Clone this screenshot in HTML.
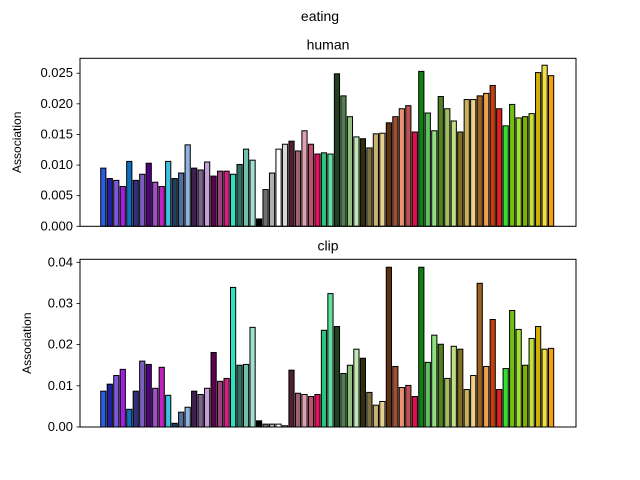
<!DOCTYPE html>
<html><head><meta charset="utf-8"><style>
body{margin:0;background:#fff}
svg{display:block;font-family:"Liberation Sans","DejaVu Sans",sans-serif}
</style></head><body>
<svg id="chart" width="640" height="480" viewBox="0 0 640 480" xmlns="http://www.w3.org/2000/svg">
<text x="320" y="21" font-size="14" text-anchor="middle">eating</text>
</svg>
<script>
const colors=["#2a5ce6","#2020a0","#7a5ad8","#a020e0","#1070c0","#303080","#7a60c0","#500080","#a050c8","#c020c0","#40c0e0","#204060","#5070a0","#90b0e0","#402050","#806090","#c8a0d8","#600050","#a04080","#d02080","#30e0c0","#307060","#70c0b0","#a0e0d0","#000000","#707070","#b0b0b0","#ffffff","#d8d8d8","#502030","#a06070","#e0a0b0","#c05070","#e01060","#30c080","#60e0a0","#204020","#508050","#90c080","#c0e8b0","#303010","#807040","#c8b070","#e8d090","#603010","#a05030","#e89070","#c05050","#e01050","#108010","#60c060","#90e080","#508020","#a0c060","#c0e080","#807020","#c8b060","#f0d080","#a06020","#f0a050","#c04010","#e02020","#30e030","#70c010","#a0e030","#80b000","#c0e040","#d0b000","#f0e040","#f0a010"];
const humanValues=[0.0095,0.0078,0.0075,0.0065,0.0106,0.0075,0.0085,0.0103,0.0072,0.0065,0.0106,0.0078,0.0087,0.0133,0.0095,0.0092,0.0105,0.0082,0.009,0.009,0.0085,0.0101,0.0126,0.0108,0.0012,0.006,0.0087,0.0126,0.0134,0.0139,0.0123,0.0156,0.0134,0.0118,0.012,0.0118,0.0249,0.0213,0.0179,0.0146,0.0143,0.0128,0.0151,0.0152,0.0169,0.0179,0.0192,0.0197,0.0154,0.0253,0.0185,0.0156,0.0212,0.0192,0.0172,0.0154,0.0207,0.0207,0.0213,0.0217,0.023,0.0192,0.0164,0.0199,0.0177,0.0179,0.0184,0.0251,0.0263,0.0246];
const clipValues=[0.0087,0.0104,0.0125,0.014,0.0043,0.0087,0.016,0.0152,0.0094,0.0145,0.0077,0.0009,0.0036,0.0048,0.0087,0.0079,0.0094,0.0181,0.0111,0.0118,0.0339,0.015,0.0152,0.0242,0.0015,0.0007,0.0007,0.0007,0.0003,0.0138,0.0082,0.0079,0.0074,0.0079,0.0235,0.0324,0.0244,0.013,0.015,0.0189,0.0167,0.0084,0.0053,0.0062,0.0388,0.0147,0.0096,0.0101,0.0074,0.0388,0.0157,0.0223,0.0201,0.0118,0.0196,0.0189,0.0091,0.0125,0.0349,0.0147,0.0261,0.0091,0.0142,0.0283,0.0237,0.015,0.0215,0.0244,0.0189,0.0191];
const humanTicks=[0,0.005,0.01,0.015,0.02,0.025];
const humanTickLabels=["0.000","0.005","0.010","0.015","0.020","0.025"];
const clipTicks=[0,0.01,0.02,0.03,0.04];
const clipTickLabels=["0.00","0.01","0.02","0.03","0.04"];
const NS="http://www.w3.org/2000/svg";
const svg=document.getElementById('chart');
function mk(tag,attrs){const e=document.createElementNS(NS,tag);for(const k in attrs)e.setAttribute(k,attrs[k]);return e;}
function panel(name,title,values,ticks,labels,top,bottom,vmax,ylabX){
  const L=80,R=576;
  const g=mk('g',{});
  
  
  svg.appendChild(g);
  const y=v=>bottom-v/vmax*(bottom-top-0);
  const pitch=6.49,x0=103.3;
  const xc=i=>x0+i*pitch;
  values.forEach((v,i)=>{
    const r=mk('rect',{x:xc(i)-2.6,y:y(v),width:5.2,height:bottom-y(v),fill:colors[i],stroke:'#000','stroke-width':1});
    
    
    g.appendChild(r);
  });
  const f=mk('rect',{x:L,y:top,width:R-L,height:bottom-top,fill:'none',stroke:'#000','stroke-width':1});
  
  
  g.appendChild(f);
  ticks.forEach((t,i)=>{
    const ty=y(t);
    const tl=mk('line',{x1:L-3.5,x2:L,y1:ty,y2:ty,stroke:'#000','stroke-width':0.8});
    
    
    g.appendChild(tl);
    const tx=mk('text',{x:L-7,y:ty+4,'font-size':13,'text-anchor':'end'});
    
    
    tx.textContent=labels[i];
    g.appendChild(tx);
  });
  const tt=mk('text',{x:328,y:top-9,'font-size':14,'text-anchor':'middle'});
  
  
  tt.textContent=title;g.appendChild(tt);
  const cy=(top+bottom)/2;
  const yl=mk('text',{x:ylabX,y:cy,'font-size':12,'text-anchor':'middle',transform:'rotate(-90 '+ylabX+' '+cy+')'});
  
  
  yl.textContent='Association';g.appendChild(yl);
}
// human: bottom 226.3, 0.025 at 73.2 -> vmax so that top=58.3
panel('human','human',humanValues,humanTicks,humanTickLabels,58.3,226.3,(226.3-58.3)/((226.3-73.2)/0.025),21);
panel('clip','clip',clipValues,clipTicks,clipTickLabels,259.3,427,(427-259.3)/((427-262.3)/0.04),31);
</script>
</body></html>
